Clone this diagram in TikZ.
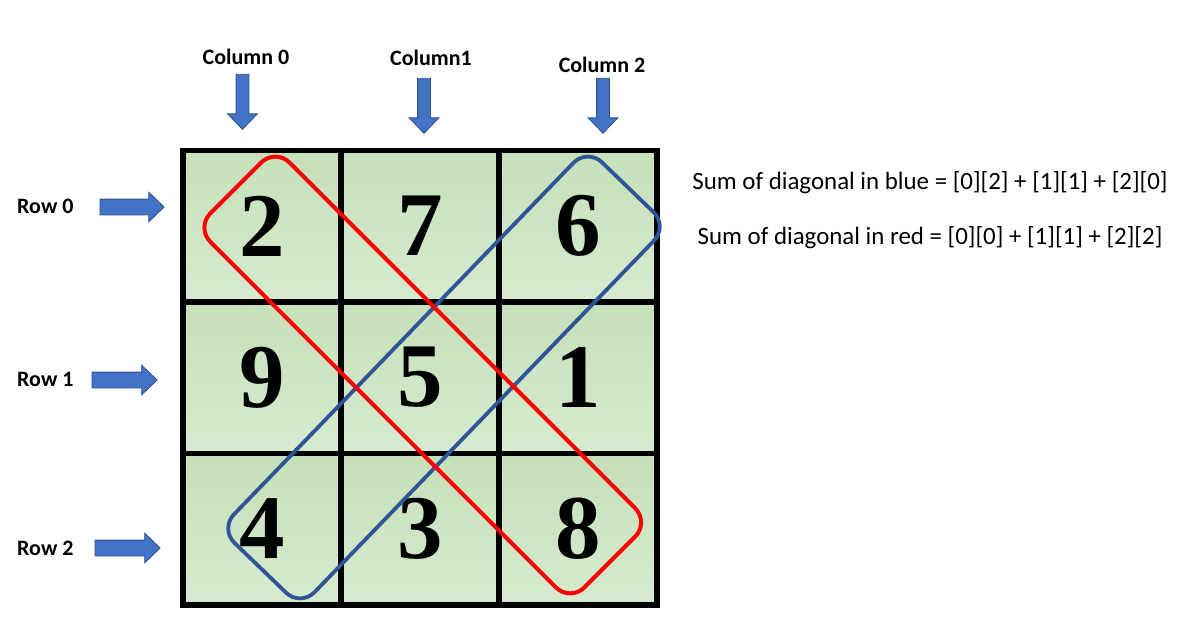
\documentclass[tikz,border=0pt]{standalone}
\usepackage{fontspec}
\setmainfont{Carlito}
\newfontfamily\digitfont{Liberation Serif}
\usetikzlibrary{positioning, shapes.arrows}
\definecolor{ArrowFill}{HTML}{4472C4}
\definecolor{ArrowLine}{HTML}{2F528F}
\definecolor{BandBlue}{HTML}{2F5597}
\definecolor{BandRed}{HTML}{FF0000}
\definecolor{CellTop}{HTML}{C5E0B9}
\definecolor{CellBottom}{HTML}{D6EBCF}
\tikzset{
    cell/.style={rectangle, draw=black, line width=5.5pt, top color=CellTop, bottom color=CellBottom,
        minimum width=158pt, minimum height=151.5pt, inner sep=0pt, font=\digitfont\bfseries\fontsize{91}{91}\selectfont},
    headlabel/.style={font=\bfseries\fontsize{22}{25}\selectfont, inner sep=0pt},
    sumlabel/.style={font=\fontsize{24.9}{28}\selectfont, inner sep=0pt},
    blockarrow/.style={single arrow, fill=ArrowFill, draw=ArrowLine, line width=0.8pt, inner xsep=0pt,
        single arrow tip angle=88},
    band/.style={rectangle, rounded corners=20pt, minimum width=529pt, minimum height=112pt, inner sep=0pt},
}
\begin{document}
\begin{tikzpicture}[x=1pt, y=-1pt]
    \useasboundingbox (0,0) rectangle (1179,640);

    % Matrix cells
    \foreach \r/\vals in {0/{2,7,6}, 1/{9,5,1}, 2/{4,3,8}} {
        \foreach \v [count=\c from 0] in \vals {
            \node[cell] (cell-\r-\c) at (262+158*\c, 226+151.5*\r) {\v};
        }
    }

    % Diagonals
    \node[band, draw=BandBlue, line width=3.8pt, rotate=46] (blueband) at (444,377.5) {};
    \node[band, draw=BandRed, line width=4pt, rotate=-45] (redband) at (422.75,375) {};

    % Column headings
    \node[headlabel] (col0) at (246,57) {Column 0};
    \node[headlabel] (col1) at (431,58) {Column1};
    \node[headlabel] (col2) at (602,65) {Column 2};
    \node[blockarrow, inner ysep=6pt, minimum height=55pt, single arrow head extend=8.5pt, rotate=-90] (arrowcol0) at (242.5,98.5) {};
    \node[blockarrow, inner ysep=6pt, minimum height=55pt, single arrow head extend=8.5pt, rotate=-90] (arrowcol1) at (424,102.5) {};
    \node[blockarrow, inner ysep=6pt, minimum height=55pt, single arrow head extend=8.5pt, rotate=-90] (arrowcol2) at (603,102.5) {};

    % Row headings
    \node[headlabel, anchor=west] (row0) at (17,206) {Row 0};
    \node[headlabel, anchor=west] (row1) at (17,379) {Row 1};
    \node[headlabel, anchor=west] (row2) at (17,548) {Row 2};
    \node[blockarrow, inner ysep=7.5pt, minimum height=64pt, single arrow head extend=7pt] (arrowrow0) at (128,207) {};
    \node[blockarrow, inner ysep=7.5pt, minimum height=65pt, single arrow head extend=7pt] (arrowrow1) at (120.5,380) {};
    \node[blockarrow, inner ysep=7.5pt, minimum height=65pt, single arrow head extend=7pt] (arrowrow2) at (123.5,548) {};

    % Sums
    \node[sumlabel] (sumblue) at (930,183) {Sum of diagonal in blue = [0][2] + [1][1] + [2][0]};
    \node[sumlabel] (sumred) at (930,238) {Sum of diagonal in red = [0][0] + [1][1] + [2][2]};
\end{tikzpicture}
\end{document}
